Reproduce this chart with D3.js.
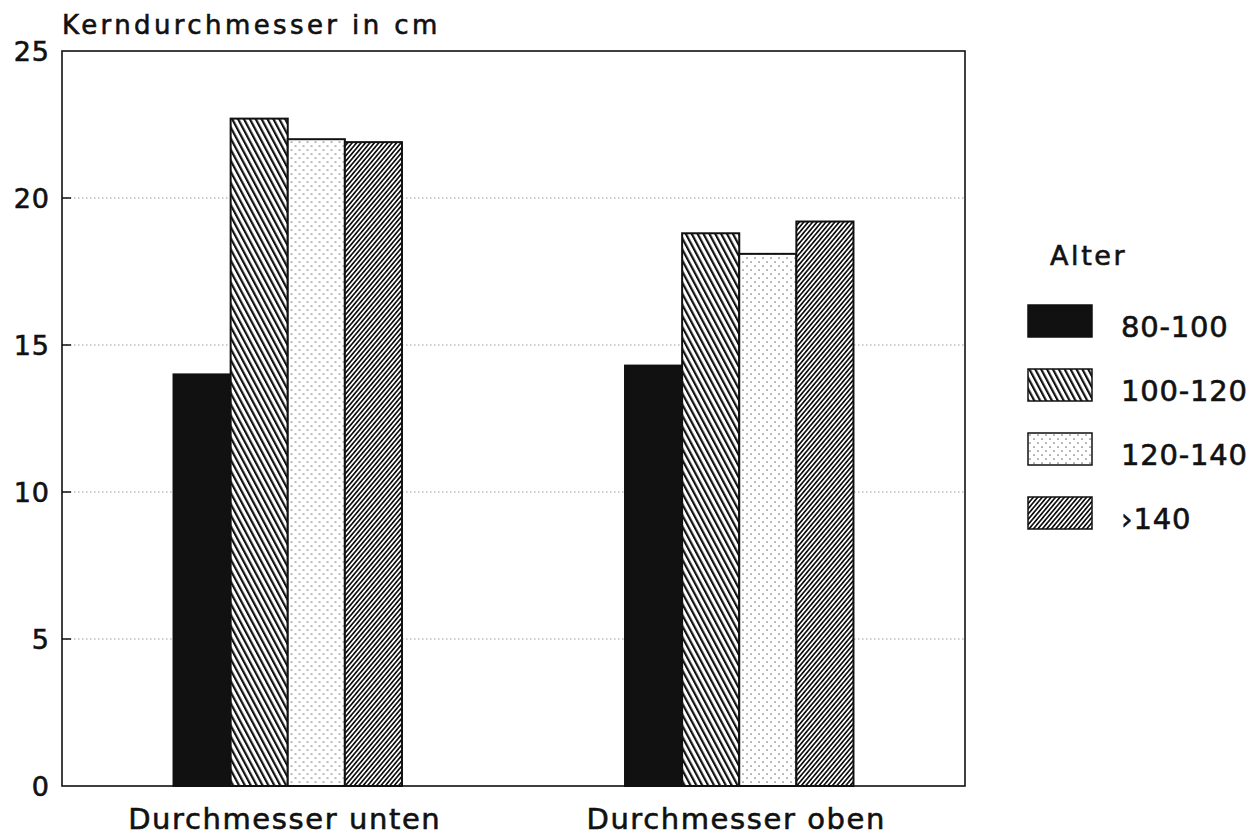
<!DOCTYPE html>
<html><head><meta charset="utf-8">
<script src="https://cdn.jsdelivr.net/npm/d3@7"></script>
<style>body{margin:0;background:#fff}svg{display:block}text{font-family:"DejaVu Sans",Arial,sans-serif;fill:#111;stroke:#111;stroke-width:0.6px}</style>
</head><body><svg id="c" width="1260" height="836"></svg>
<script>
const categories = ["Durchmesser unten", "Durchmesser oben"];
const series = ["80-100", "100-120", "120-140", "\u203A140"];
const values80_100 = [14.0, 14.3];
const values100_120 = [22.7, 18.8];
const values120_140 = [22.0, 18.1];
const valuesOver140 = [21.9, 19.2];
const yTicks = [0, 5, 10, 15, 20, 25];
const yTitle = "Kerndurchmesser in cm";
const legendTitle = "Alter";

const allValues = [values80_100, values100_120, values120_140, valuesOver140];
const svg = d3.select("#c");
const m = {l: 62, r: 965, t: 51, b: 786};
const FONT = "'DejaVu Sans',Arial,sans-serif";

// patterns
const defs = svg.append("defs");
const p1 = defs.append("pattern").attr("id","p1").attr("patternUnits","userSpaceOnUse")
  .attr("width",5.2).attr("height",10).attr("patternTransform","rotate(-28)");
p1.append("rect").attr("width",5.2).attr("height",10).attr("fill","#fff");
p1.append("rect").attr("x",0).attr("width",2.2).attr("height",10).attr("fill","#111");
const p2 = defs.append("pattern").attr("id","p2").attr("patternUnits","userSpaceOnUse")
  .attr("width",3.4).attr("height",10).attr("patternTransform","rotate(40)");
p2.append("rect").attr("width",3.4).attr("height",10).attr("fill","#fff");
p2.append("rect").attr("x",0).attr("width",1.7).attr("height",10).attr("fill","#111");
const p3 = defs.append("pattern").attr("id","p3").attr("patternUnits","userSpaceOnUse").attr("width",8).attr("height",8);
p3.append("rect").attr("width",8).attr("height",8).attr("fill","#fff");
p3.append("circle").attr("cx",2).attr("cy",2).attr("r",0.85).attr("fill","#777");
p3.append("circle").attr("cx",6).attr("cy",6).attr("r",0.85).attr("fill","#777");
const fills = ["#111", "url(#p1)", "url(#p3)", "url(#p2)"];

const y = d3.scaleLinear().domain([0,25]).range([m.b, m.t]);
const x0 = d3.scaleBand().domain(categories).range([m.l, m.r]).paddingInner(0).paddingOuter(0);
const groupW = x0.bandwidth()*0.506;
const x1 = d3.scaleBand().domain(series).range([0, groupW]).padding(0);

// grid
const inner = yTicks.filter(d=>d>0&&d<25);
svg.append("g").selectAll("line").data(inner).join("line")
  .attr("x1", m.l).attr("x2", m.r).attr("y1", d=>y(d)).attr("y2", d=>y(d))
  .attr("stroke","#999").attr("stroke-width",1).attr("stroke-dasharray","1.5,2.5");
svg.append("g").selectAll("line").data(inner).join("line")
  .attr("x1", m.l).attr("x2", m.l+9).attr("y1", d=>y(d)).attr("y2", d=>y(d))
  .attr("stroke","#111").attr("stroke-width",1.5);

// y axis labels
const yAxis = d3.axisLeft(y).tickValues(yTicks).tickSize(0).tickPadding(12).tickFormat(d3.format("d"));
const ya = svg.append("g").attr("transform",`translate(${m.l},0)`).call(yAxis);
ya.select(".domain").remove();
ya.selectAll("text").attr("font-size",27).style("font-family",FONT)
  .attr("letter-spacing","1px").attr("fill","#111").attr("dy","0.36em");

// bars
const groups = svg.append("g").selectAll("g").data(categories).join("g")
  .attr("transform", d => `translate(${x0(d) + (x0.bandwidth()-groupW)/2},0)`);
groups.selectAll("rect").data((c,ci)=>series.map((s,si)=>({s, si, v: allValues[si][ci]}))).join("rect")
  .attr("x", d=>x1(d.s)).attr("width", x1.bandwidth())
  .attr("y", d=>y(d.v)).attr("height", d=>y(0)-y(d.v))
  .attr("fill", d=>fills[d.si]).attr("stroke","#111").attr("stroke-width",2);

// frame
svg.append("rect").attr("x",m.l).attr("y",m.t).attr("width",m.r-m.l).attr("height",m.b-m.t)
  .attr("fill","none").attr("stroke","#111").attr("stroke-width",1.6);

// x labels
svg.append("g").selectAll("text").data(categories).join("text")
  .attr("x", d=>x0(d)+x0.bandwidth()/2 - 3).attr("y", 829).attr("text-anchor","middle")
  .attr("font-size",29).attr("letter-spacing","1.6px").text(d=>d);

// title
svg.append("text").attr("x",62).attr("y",34).attr("font-size",26).attr("letter-spacing","3.4px").text(yTitle);

// legend
svg.append("text").attr("x",1050).attr("y",265).attr("font-size",27).attr("letter-spacing","2.6px").text(legendTitle);
const lg = svg.append("g").selectAll("g").data(series).join("g")
  .attr("transform",(d,i)=>`translate(1028,${305+i*64})`);
lg.append("rect").attr("width",64).attr("height",32).attr("fill",(d,i)=>fills[i]).attr("stroke","#111").attr("stroke-width",1.5);
lg.append("text").attr("x",93).attr("y",32).attr("font-size",29).attr("letter-spacing","0.8px").text(d=>d);
</script></body></html>
